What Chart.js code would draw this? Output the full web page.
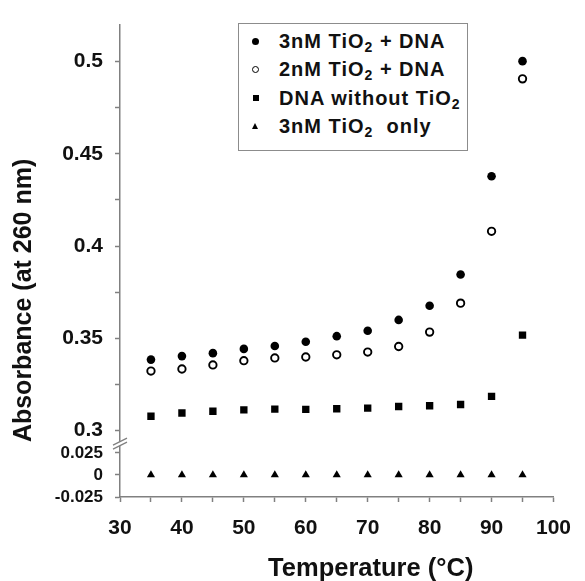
<!DOCTYPE html>
<html>
<head>
<meta charset="utf-8">
<title>Absorbance vs temperature</title>
<script src="https://cdn.jsdelivr.net/npm/chart.js@4.4.1/dist/chart.umd.min.js"></script>
<style>
  html, body { margin: 0; padding: 0; background: #fff; }
  #wrap { position: relative; width: 585px; height: 581px; }
  #legend {
    position: absolute; left: 238px; top: 23px; width: 230px; height: 128px;
    box-sizing: border-box; border: 1.5px solid #8c8c8c; background: #fff;
    padding-top: 3px;
    font: bold 20px 'Liberation Sans', Arial, sans-serif; color: #111; letter-spacing: 1px;
  }
  #legend .row { position: relative; height: 28.4px; line-height: 28.4px; padding-left: 40px; white-space: nowrap; }
  #legend .mk { position: absolute; top: 50%; box-sizing: border-box; }
  #legend .dot { left: 13px; width: 7px; height: 7px; margin-top: -3.5px; border-radius: 50%; background: #000; }
  #legend .ring { left: 13px; width: 7px; height: 7px; margin-top: -3.5px; border-radius: 50%; border: 1.5px solid #000; }
  #legend .sq { left: 13.5px; width: 6px; height: 6px; margin-top: -3px; background: #000; }
  #legend .tri { left: 13px; width: 0; height: 0; margin-top: -3px; border-left: 3.5px solid transparent; border-right: 3.5px solid transparent; border-bottom: 6px solid #000; }
  #legend sub { font-size: 0.7em; vertical-align: -0.3em; line-height: 0; }
</style>
</head>
<body>
<div id="wrap">
  <canvas id="chart" width="585" height="581"></canvas>
  <div id="legend"></div>
</div>
<script>
// ---- Data ----
const temps = [35, 40, 45, 50, 55, 60, 65, 70, 75, 80, 85, 90, 95];
const tio2_3nM_dna = [0.3385, 0.3404, 0.3420, 0.3443, 0.3459, 0.3482, 0.3512, 0.3541, 0.3600, 0.3677, 0.3846, 0.4378, 0.5002];
const tio2_2nM_dna = [0.3323, 0.3334, 0.3356, 0.3379, 0.3394, 0.3399, 0.3411, 0.3426, 0.3456, 0.3534, 0.3691, 0.4080, 0.4906];
const dna_only = [0.3078, 0.3096, 0.3105, 0.3113, 0.3117, 0.3115, 0.3119, 0.3122, 0.3131, 0.3135, 0.3142, 0.3186, 0.3518];
const tio2_only = [0, 0, 0, 0, 0, 0, 0, 0, 0, 0, 0, 0, 0];

const seriesLabels = ['3nM TiO₂ + DNA', '2nM TiO₂ + DNA', 'DNA without TiO₂', '3nM TiO₂  only'];

const xTickLabels = ['30', '40', '50', '60', '70', '80', '90', '100'];
const yTickLabels = ['0.3', '0.35', '0.4', '0.45', '0.5'];
const yLowTickLabels = ['-0.025', '0', '0.025'];

const xTitle = 'Temperature (°C)';
const yTitle = 'Absorbance (at 260 nm)';

// ---- Styling ----
const axisColor = '#808080';
const textColor = '#111';
Chart.defaults.font.family = "'Liberation Sans', Arial, sans-serif";
Chart.defaults.font.weight = 'bold';
Chart.defaults.color = textColor;

const pts = arr => temps.map((t, i) => ({ x: t, y: arr[i] }));
const onlyLabels = list => v => {
  const s = String(+(+v).toFixed(4));
  return list.includes(s) ? s : '';
};

// axis break marks ("//") where the two y ranges meet
const axisBreak = {
  id: 'axisBreak',
  afterDraw(chart) {
    const { ctx, chartArea } = chart;
    const x = chartArea.left, y = chart.scales.yLow.top;
    ctx.save();
    ctx.fillStyle = '#fff';
    ctx.beginPath();
    ctx.moveTo(x - 7, y + 3); ctx.lineTo(x + 7, y - 4);
    ctx.lineTo(x + 7, y); ctx.lineTo(x - 7, y + 7);
    ctx.closePath(); ctx.fill();
    ctx.strokeStyle = axisColor; ctx.lineWidth = 1.3;
    ctx.beginPath();
    ctx.moveTo(x - 7, y + 3); ctx.lineTo(x + 7, y - 4);
    ctx.moveTo(x - 7, y + 7); ctx.lineTo(x + 7, y);
    ctx.stroke();
    ctx.restore();
  }
};

// x axis title (sits right of centre in the original)
const xAxisTitle = {
  id: 'xAxisTitle',
  afterDraw(chart) {
    const { ctx, chartArea } = chart;
    ctx.save();
    ctx.font = "bold 25.5px 'Liberation Sans', Arial, sans-serif";
    ctx.fillStyle = textColor;
    ctx.textAlign = 'center';
    ctx.textBaseline = 'alphabetic';
    ctx.fillText(xTitle, (chartArea.left + chartArea.right) / 2 + 34, chart.height - 5);
    ctx.restore();
  }
};

const tickGrid = { drawOnChartArea: false, tickLength: 5, tickColor: axisColor, tickWidth: 1.5 };
const axisBorder = { color: axisColor, width: 1.5 };

const chart = new Chart(document.getElementById('chart'), {
  type: 'scatter',
  data: {
    datasets: [
      { label: seriesLabels[0], data: pts(tio2_3nM_dna), yAxisID: 'y',
        pointStyle: 'circle', pointRadius: 4.3, backgroundColor: '#000', borderColor: '#000', borderWidth: 0 },
      { label: seriesLabels[1], data: pts(tio2_2nM_dna), yAxisID: 'y',
        pointStyle: 'circle', pointRadius: 3.7, backgroundColor: '#fff', borderColor: '#000', borderWidth: 1.9 },
      { label: seriesLabels[2], data: pts(dna_only), yAxisID: 'y',
        pointStyle: 'rect', pointRadius: 5.2, backgroundColor: '#000', borderColor: '#000', borderWidth: 0 },
      { label: seriesLabels[3], data: pts(tio2_only), yAxisID: 'yLow',
        pointStyle: 'triangle', pointRadius: 4.7, backgroundColor: '#000', borderColor: '#000', borderWidth: 0 }
    ]
  },
  options: {
    responsive: false,
    animation: false,
    events: [],
    layout: { padding: { top: 15, right: 22, left: 0, bottom: 0 } },
    plugins: { legend: { display: false }, tooltip: { enabled: false } },
    scales: {
      x: {
        type: 'linear', position: 'bottom', min: 30, max: 100,
        border: axisBorder, grid: tickGrid,
        ticks: { stepSize: 5, padding: 14, autoSkip: false, maxRotation: 0, minRotation: 0,
                 font: { size: 21 }, color: textColor, callback: onlyLabels(xTickLabels) },
        afterFit: s => { s.height = 84; }
      },
      yLow: {
        type: 'linear', position: 'left', stack: 'abs', stackWeight: 56,
        min: -0.025, max: 0.0372,
        border: axisBorder, grid: tickGrid,
        ticks: { stepSize: 0.025, includeBounds: false, autoSkip: false, padding: 12,
                 font: { size: 17 }, color: textColor, callback: onlyLabels(yLowTickLabels) },
        afterFit: s => { s.width = 120; }
      },
      y: {
        type: 'linear', position: 'left', stack: 'abs', stackWeight: 426,
        min: 0.2938, max: 0.52,
        border: axisBorder, grid: tickGrid,
        ticks: { stepSize: 0.025, includeBounds: false, autoSkip: false, padding: 12,
                 font: { size: 21 }, color: textColor, callback: onlyLabels(yTickLabels) },
        title: { display: true, text: yTitle, align: 'start', color: textColor,
                 font: { size: 25, weight: 'bold' }, padding: { top: 9, bottom: 0 } },
        afterFit: s => { s.width = 120; }
      }
    }
  },
  plugins: [axisBreak, xAxisTitle]
});

// ---- HTML legend (for the subscript 2) ----
const legendEl = document.getElementById('legend');
chart.data.datasets.forEach(ds => {
  let cls = 'dot';
  if (ds.pointStyle === 'rect') cls = 'sq';
  else if (ds.pointStyle === 'triangle') cls = 'tri';
  else if (ds.backgroundColor === '#fff') cls = 'ring';
  const row = document.createElement('div');
  row.className = 'row';
  row.innerHTML = `<span class="mk ${cls}"></span>` + ds.label.replace(/₂/g, '<sub>2</sub>').replace(/  /g, ' &nbsp;');
  legendEl.appendChild(row);
});
</script>
</body>
</html>
